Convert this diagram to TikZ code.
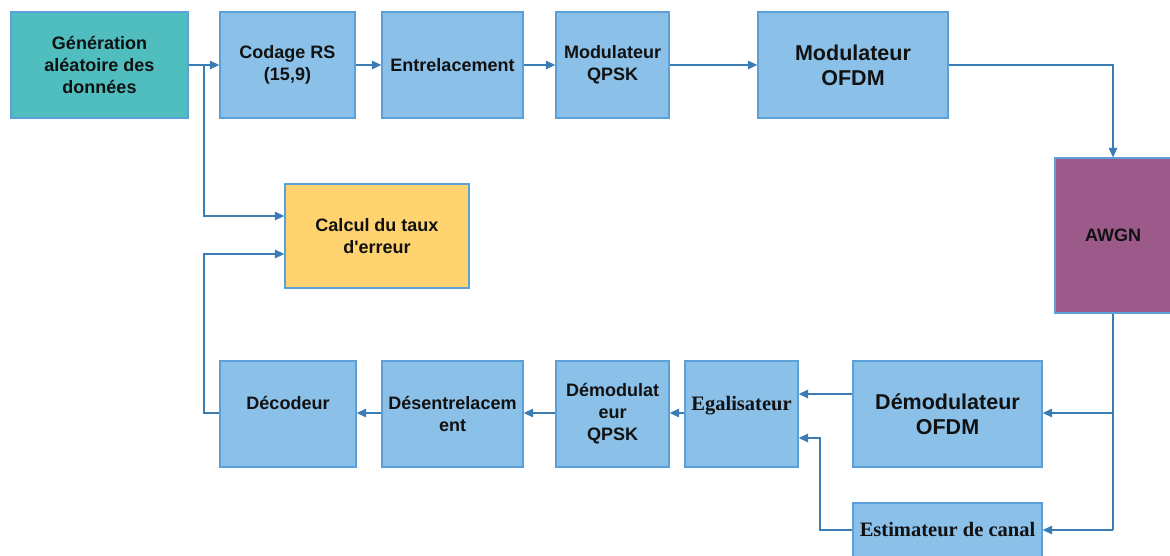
\documentclass[tikz,border=0pt]{standalone}
\usepackage{fontspec}
\setmainfont{Liberation Sans}
\newfontfamily\serifbold{Liberation Serif}
\usetikzlibrary{arrows.meta}
\definecolor{boxblue}{HTML}{8BC1E9}
\definecolor{boxedge}{HTML}{5BA0D8}
\definecolor{tealfill}{HTML}{50BDBF}
\definecolor{yellowfill}{HTML}{FED370}
\definecolor{purplefill}{HTML}{9B5A89}
\definecolor{linecol}{HTML}{3A7DB5}
\definecolor{txt}{HTML}{111111}
\begin{document}
\begin{tikzpicture}[x=1pt,y=-1pt,
  blk/.style={draw=boxedge, line width=1.3pt, fill=boxblue, align=center, text=txt,
    inner sep=0pt, font=\fontsize{18}{22}\selectfont\bfseries},
  bigtxt/.style={font=\fontsize{21.5}{25}\selectfont\bfseries},
  sertxt/.style={font=\fontsize{20.5}{24}\selectfont\serifbold\bfseries},
  arr/.style={draw=linecol, line width=1.3pt, -{Triangle[length=9.5pt,width=8.5pt]}},
  ln/.style={draw=linecol, line width=1.3pt}]
\useasboundingbox (0,0) rectangle (1170,555);
\fill[white] (0,0) rectangle (1170,555);

% top row
\node[blk, fill=tealfill, minimum width=177pt, minimum height=106pt] (gen) at (99.5,65) {Génération\\aléatoire des\\données};
\node[blk, minimum width=135pt, minimum height=106pt] (rs) at (287.5,65) {Codage RS\\(15,9)};
\node[blk, minimum width=141pt, minimum height=106pt] (ent) at (452.5,65) {Entrelacement};
\node[blk, minimum width=113pt, minimum height=106pt] (qpsk) at (612.5,65) {Modulateur\\QPSK};
\node[blk, bigtxt, minimum width=190pt, minimum height=106pt] (ofdm) at (853,65) {Modulateur\\OFDM};

% channel
\node[blk, fill=purplefill, minimum width=116pt, minimum height=155pt] (awgn) at (1113,235.5) {AWGN};

% error rate
\node[blk, fill=yellowfill, minimum width=184pt, minimum height=104pt] (calc) at (377,236) {Calcul du taux\\d\textquotesingle erreur};

% bottom row
\node[blk, minimum width=136pt, minimum height=106pt, text height=13pt, text depth=22pt] (dec) at (288,414) {Décodeur};
\node[blk, minimum width=141pt, minimum height=106pt] (des) at (452.5,414) {Désentrelacem\\ent};
\node[blk, minimum width=113pt, minimum height=106pt] (dqpsk) at (612.5,414) {Démodulat\\eur\\QPSK};
\node[blk, sertxt, minimum width=113pt, minimum height=106pt, text height=13.6pt, text depth=20pt] (egal) at (741.5,414) {Egalisateur};
\node[blk, bigtxt, minimum width=189pt, minimum height=106pt] (dofdm) at (947.5,414) {Démodulateur\\OFDM};
\node[blk, sertxt, minimum width=189pt, minimum height=54pt] (est) at (947.5,530) {Estimateur de canal};

% coordinates
\coordinate (br1) at (204,65);
\coordinate (br2) at (1113,413);
\coordinate (br3) at (1113,530);

% connectors top
\draw[arr] (gen.east) -- (rs.west);
\draw[arr] (br1) -- (204,216) -- (calc.west |- 0,216);
\draw[arr] (rs.east) -- (ent.west);
\draw[arr] (ent.east) -- (qpsk.west);
\draw[arr] (qpsk.east) -- (ofdm.west);
\draw[arr] (ofdm.east) -| (awgn.north);

% channel to receivers
\draw[ln] (awgn.south) -- (br3);
\draw[arr] (br2) -- (dofdm.east |- br2);
\draw[arr] (br3) -- (est.east);

% receiver chain
\draw[arr] (dofdm.west |- 0,394) -- (egal.east |- 0,394);
\draw[arr] (est.west) -- (820,530) -- (820,438) -- (egal.east |- 0,438);
\draw[arr] (egal.west |- 0,413) -- (dqpsk.east |- 0,413);
\draw[arr] (dqpsk.west |- 0,413) -- (des.east |- 0,413);
\draw[arr] (des.west |- 0,413) -- (dec.east |- 0,413);
\draw[arr] (dec.west |- 0,413) -- (204,413) -- (204,254) -- (calc.west |- 0,254);
\end{tikzpicture}
\end{document}
